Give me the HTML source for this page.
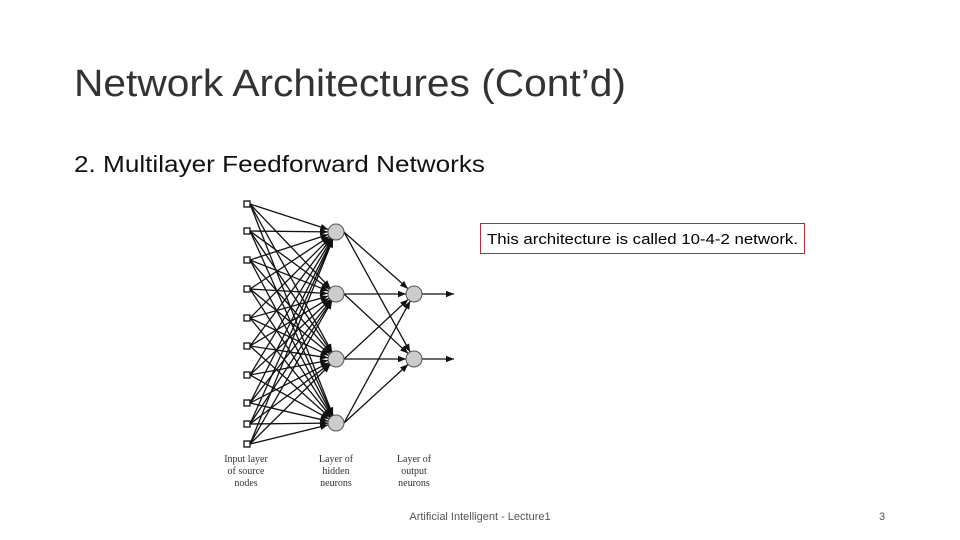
<!DOCTYPE html>
<html><head><meta charset="utf-8"><style>
html,body{margin:0;padding:0;background:#fff;}
svg{display:block;}
</style></head><body>
<svg id="s" width="960" height="540" viewBox="0 0 960 540" xmlns="http://www.w3.org/2000/svg" font-family="Liberation Sans, sans-serif">
<defs>
<marker id="a" viewBox="0 0 10 10" refX="10" refY="5" markerWidth="9" markerHeight="8" orient="auto" markerUnits="userSpaceOnUse"><path d="M0,1 L10,5 L0,9 z" fill="#111"/></marker>
</defs>
<text x="74" y="96" font-size="38" fill="#333" textLength="552" lengthAdjust="spacingAndGlyphs">Network Architectures (Cont’d)</text>
<text x="74" y="172" font-size="23" fill="#111" textLength="411" lengthAdjust="spacingAndGlyphs">2. Multilayer Feedforward Networks</text>
<rect x="480.5" y="223.5" width="324" height="30" fill="#fff" stroke="#b0303a" stroke-width="1"/>
<text x="487" y="244" font-size="14.5" fill="#000" textLength="311" lengthAdjust="spacingAndGlyphs">This architecture is called 10-4-2 network.</text>
<g id="net" stroke="#111" stroke-width="1.3" fill="none"></g>
<g font-family="Liberation Serif, serif" font-size="10" fill="#333" text-anchor="middle">
<text x="246" y="462">Input layer</text><text x="246" y="474">of source</text><text x="246" y="486">nodes</text>
<text x="336" y="462">Layer of</text><text x="336" y="474">hidden</text><text x="336" y="486">neurons</text>
<text x="414" y="462">Layer of</text><text x="414" y="474">output</text><text x="414" y="486">neurons</text>
</g>
<text x="480" y="520" font-size="11" fill="#555" text-anchor="middle">Artificial Intelligent - Lecture1</text>
<text x="882" y="520" font-size="11" fill="#555" text-anchor="middle">3</text>
</svg>
<script>
var g=document.getElementById('net'),NS='http://www.w3.org/2000/svg';
var inY=[204,231,260,289,318,346,375,403,424,444],hY=[232,294,359,423],oY=[294,359];
var ix=247,hx=336,ox=414,r=8;
function L(x1,y1,x2,y2,arrow){var l=document.createElementNS(NS,'line');l.setAttribute('x1',x1);l.setAttribute('y1',y1);
var dx=x2-x1,dy=y2-y1,d=Math.sqrt(dx*dx+dy*dy);if(arrow){x2-=dx/d*r;y2-=dy/d*r;l.setAttribute('marker-end','url(#a)');}
l.setAttribute('x2',x2);l.setAttribute('y2',y2);g.appendChild(l);}
inY.forEach(function(y){hY.forEach(function(h){L(ix+3,y,hx,h,1);});});
hY.forEach(function(h){oY.forEach(function(o){L(hx+r,h,ox,o,1);});});
oY.forEach(function(o){L(ox+r,o,454,o,0);var l=g.lastChild;l.setAttribute('marker-end','url(#a)');});
inY.forEach(function(y){var q=document.createElementNS(NS,'rect');q.setAttribute('x',ix-3);q.setAttribute('y',y-3);q.setAttribute('width',6);q.setAttribute('height',6);q.setAttribute('fill','#fff');g.appendChild(q);});
hY.forEach(function(y){var c=document.createElementNS(NS,'circle');c.setAttribute('cx',hx);c.setAttribute('cy',y);c.setAttribute('r',r);c.setAttribute('fill','#ccc');c.setAttribute('stroke','#555');c.setAttribute('stroke-width','1');g.appendChild(c);});
oY.forEach(function(y){var c=document.createElementNS(NS,'circle');c.setAttribute('cx',ox);c.setAttribute('cy',y);c.setAttribute('r',r);c.setAttribute('fill','#ccc');c.setAttribute('stroke','#555');c.setAttribute('stroke-width','1');g.appendChild(c);});
</script>
</body></html>
